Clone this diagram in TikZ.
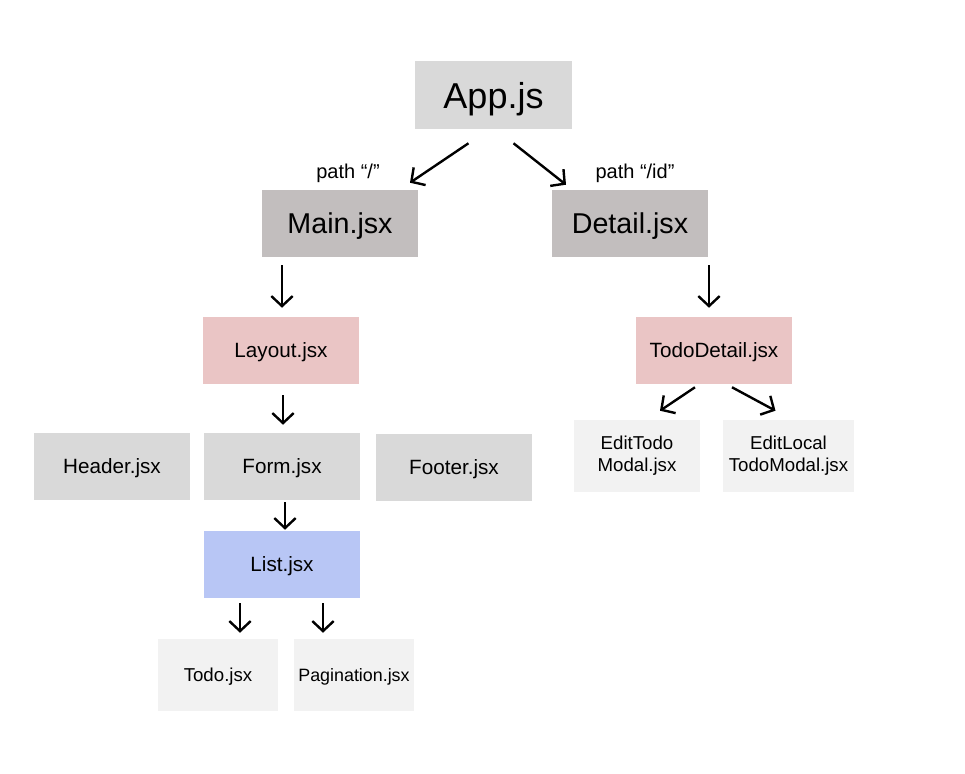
\documentclass[tikz,border=0pt]{standalone}
\usepackage{fontspec}
\setmainfont{Liberation Sans}
\usetikzlibrary{arrows.meta,calc}
\definecolor{cA}{HTML}{D9D9D9}
\definecolor{cB}{HTML}{C2BEBE}
\definecolor{cP}{HTML}{EAC5C5}
\definecolor{cL}{HTML}{B8C6F5}
\definecolor{cW}{HTML}{F2F2F2}
\begin{document}
\begin{tikzpicture}[x=0.75pt,y=-0.75pt,
  box/.style={inner sep=0pt, minimum width=117pt, minimum height=50.25pt, align=center, text=black, text depth=0pt},
  small/.style={inner sep=0pt, minimum width=90pt, minimum height=54pt, align=center, text=black},
  arr/.style={line width=1.8pt, -{Straight Barb[length=7.5pt,width=16pt]}},
  big/.style={font=\fontsize{27}{32}\selectfont},
  mid/.style={font=\fontsize{21.5}{26}\selectfont},
  med/.style={font=\fontsize{15.5}{19}\selectfont},
  sm/.style={font=\fontsize{14}{16.5}\selectfont},
  lbl/.style={font=\fontsize{15}{18}\selectfont, inner sep=0pt}]
\fill[white] (0,0) rectangle (965,774);
\useasboundingbox (0,0) rectangle (965,774);

\node[box, fill=cA, big, minimum width=117.75pt, minimum height=51pt] (app) at (493.5,95) {App.js};
\node[box, fill=cB, mid] (main) at (340,223.5) {Main.jsx};
\node[box, fill=cB, mid] (detail) at (630,223.5) {Detail.jsx};
\node[box, fill=cP, med] (layout) at (281,350.5) {Layout.jsx};
\node[box, fill=cP, med] (tododetail) at (714,350.5) {TodoDetail.jsx};
\node[box, fill=cA, med] (header) at (112,466.5) {Header.jsx};
\node[box, fill=cA, med] (form) at (282,466.5) {Form.jsx};
\node[box, fill=cA, med] (footer) at (454,467.5) {Footer.jsx};
\node[box, fill=cL, med] (list) at (282,564.5) {List.jsx};
\node[small, fill=cW, sm, text depth=0pt] (todo) at (218,675) {Todo.jsx};
\node[small, fill=cW, text depth=0pt, font=\fontsize{13.4}{16}\selectfont] (pagination) at (354,675) {Pagination.jsx};
\node[small, fill=cW, sm, minimum width=94.5pt] (edittodo) at (637,456) {EditTodo\\Modal.jsx};
\node[small, fill=cW, sm, minimum width=98.25pt] (editlocal) at (788.5,456) {EditLocal\\TodoModal.jsx};

\node[lbl] (lmain) at (348,173) {path “/”};
\node[lbl] (ldetail) at (635,173) {path “/id”};

\draw[arr] ($(app.south)+(-25,14)$) -- ($(main.north)+(70,-7)$);
\draw[arr] ($(app.south)+(20,14)$) -- ($(detail.north)+(-64,-5)$);
\draw[arr] ($(main.south)+(-58,8)$) -- ($(layout.north)+(1,-9)$);
\draw[arr] ($(detail.south)+(79,8)$) -- ($(tododetail.north)+(-5,-9)$);
\draw[arr] ($(layout.south)+(2,11)$) -- ($(form.north)+(1,-8)$);
\draw[arr] ($(form.south)+(3,2)$) -- ($(list.north)+(3,-1)$);
\draw[arr] ($(list.south)+(-42,5)$) -- ($(todo.north)+(22,-6)$);
\draw[arr] ($(list.south)+(41,5)$) -- ($(pagination.north)+(-31,-6)$);
\draw[arr] ($(tododetail.south)+(-19,3)$) -- ($(edittodo.north)+(23,-9)$);
\draw[arr] ($(tododetail.south)+(18,3)$) -- ($(editlocal.north)+(-13,-9)$);
\end{tikzpicture}
\end{document}
